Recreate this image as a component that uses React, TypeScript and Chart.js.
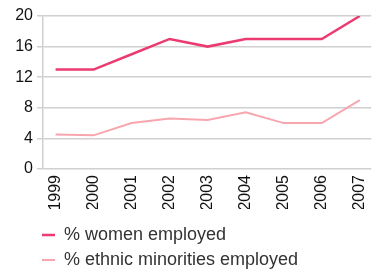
import React, { useEffect, useRef } from "react";
import { Chart, registerables } from "chart.js";

Chart.register(...registerables);

const years = [1999, 2000, 2001, 2002, 2003, 2004, 2005, 2006, 2007];
const womenEmployed = [13, 13, 15, 17, 16, 17, 17, 17, 20];
const minoritiesEmployed = [4.5, 4.4, 6.0, 6.6, 6.4, 7.4, 6.0, 6.0, 9.0];
const yTicks = [0, 4, 8, 12, 16, 20];
const seriesNames = ["% women employed", "% ethnic minorities employed"];

const tickFont = { family: "'Liberation Sans', Arial, sans-serif", size: 16 };
const legendFont = { family: "'Liberation Sans', Arial, sans-serif", size: 18 };

export default function App() {
  const ref = useRef<HTMLCanvasElement | null>(null);

  useEffect(() => {
    if (!ref.current) return;
    const legendShift = {
      id: "legendShift",
      afterLayout(chart: any) {
        const lg = chart.legend;
        if (lg) {
          lg.left -= 8;
          lg.right -= 8;
          lg.top += 10;
          lg.bottom += 10;
        }
      },
    };
    const chart = new Chart(ref.current, {
      type: "line",
      data: {
        datasets: [
          {
            label: seriesNames[0],
            data: years.map((x, i) => ({ x, y: womenEmployed[i] })),
            borderColor: "#ec3b70",
            backgroundColor: "#ec3b70",
            borderWidth: 2.5,
            pointRadius: 0,
            tension: 0,
          },
          {
            label: seriesNames[1],
            data: years.map((x, i) => ({ x, y: minoritiesEmployed[i] })),
            borderColor: "#f8a6ae",
            backgroundColor: "#f8a6ae",
            borderWidth: 2,
            pointRadius: 0,
            tension: 0,
          },
        ],
      },
      options: {
        animation: false,
        responsive: false,
        maintainAspectRatio: false,
        layout: { padding: { top: 16, left: 0, right: 0, bottom: 0 } },
        plugins: {
          tooltip: { enabled: false },
          legend: {
            display: true,
            position: "bottom",
            align: "start",
            fullSize: false,
            labels: {
              usePointStyle: true,
              pointStyle: "line",
              pointStyleWidth: 13,
              padding: 7,
              color: "#333",
              font: legendFont,
            },
          },
        },
        scales: {
          x: {
            type: "linear",
            min: years[0] - 0.33,
            max: years[years.length - 1] + 0.3,
            afterFit(scale: any) {
              scale.height = 40;
            },
            grid: { display: false, drawTicks: false },
            border: { display: false },
            ticks: {
              stepSize: 1,
              includeBounds: false,
              autoSkip: false,
              maxRotation: 90,
              minRotation: 90,
              padding: 6,
              color: "#111",
              font: tickFont,
              callback: (v: any) => (Number.isInteger(v) ? String(v) : ""),
            },
          },
          y: {
            min: yTicks[0],
            max: yTicks[yTicks.length - 1],
            afterFit(scale: any) {
              scale.width = 43;
            },
            afterBuildTicks(scale: any) {
              scale.ticks = yTicks.map((v) => ({ value: v }));
            },
            grid: { color: "#d0d0d0", lineWidth: 1.5, tickLength: 6 },
            border: { display: true, color: "#d0d0d0", width: 1.5 },
            ticks: { padding: 4, color: "#111", font: tickFont },
          },
        },
      },
      plugins: [legendShift],
    });
    return () => chart.destroy();
  }, []);

  return (
    <div style={{ position: "absolute", left: 0, top: 0, width: 385, height: 269, background: "#fff" }}>
      <canvas ref={ref} width={385} height={269} />
    </div>
  );
}
